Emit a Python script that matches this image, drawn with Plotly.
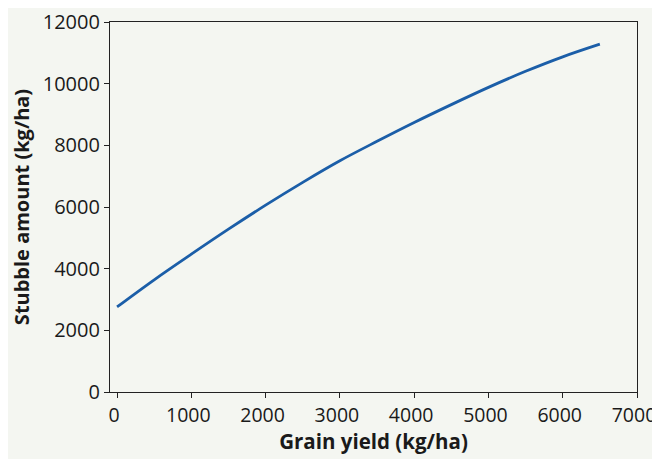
import plotly.graph_objects as go

grain_yield = [0, 500, 1000, 1500, 2000, 2500, 3000, 3500, 4000, 4500, 5000, 5500, 6000, 6500]
stubble = [2760, 3640, 4470, 5280, 6060, 6800, 7500, 8130, 8740, 9320, 9880, 10400, 10870, 11280]

x_ticks = [0, 1000, 2000, 3000, 4000, 5000, 6000, 7000]
y_ticks = [0, 2000, 4000, 6000, 8000, 10000, 12000]

# page is offset by the 8px body margin, so the figure fills the rest of the window
W, H = 652, 451
ml, mt = 102, 14
mr, mb = W - 629, H - 384

bg = "#f4f6f1"
font_family = "Open Sans"

fig = go.Figure()
fig.add_trace(go.Scatter(x=grain_yield, y=stubble, mode="lines",
                         line=dict(color="#1b5ea8", width=2.8, shape="spline"),
                         showlegend=False, hoverinfo="skip"))

axis_common = dict(showgrid=False, zeroline=False, showline=True, linecolor="#222222",
                   linewidth=1.2, ticks="outside", ticklen=5, tickwidth=1.2,
                   tickcolor="#222222",
                   mirror=True, automargin=False, ticklabeloverflow="allow")

fig.update_layout(
    width=W, height=H,
    margin=dict(l=ml, r=mr, t=mt, b=mb),
    paper_bgcolor=bg, plot_bgcolor=bg,
    xaxis=dict(range=[-95, 7000], tickvals=x_ticks, ticktext=[str(v) for v in x_ticks],
               ticklabelshift=-3,
               tickfont=dict(family=font_family, size=19.5, color="#1a1a1a"),
               title=dict(text="<b>Grain yield (kg/ha)</b>", font=dict(family=font_family, size=20.5, color="#1a1a1a"),
                          standoff=8), **axis_common),
    yaxis=dict(range=[0, 12000], tickvals=y_ticks, ticktext=[str(v) for v in y_ticks],
               tickfont=dict(family=font_family, size=20, color="#1a1a1a"),
               title=dict(text="<b>Stubble amount (kg/ha)</b>", font=dict(family=font_family, size=20, color="#1a1a1a"),
                          standoff=10), **axis_common),
)

fig.write_html("out.html")
